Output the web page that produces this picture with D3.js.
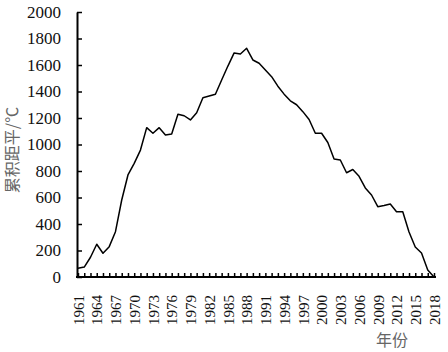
<!DOCTYPE html>
<html>
<head>
<meta charset="utf-8">
<script src="https://cdn.jsdelivr.net/npm/d3@7"></script>
<style>
  body { margin: 0; background: #fff; }
  svg { display: block; }
  .line { fill: none; stroke: #000; stroke-width: 1.5; stroke-linejoin: round; }
  .num text { font-family: "Liberation Serif", "Times New Roman", serif; }
</style>
</head>
<body>
<svg id="chart" width="448" height="352"></svg>
<script>
const years = d3.range(1961, 2019);
const values = [
  66, 75, 149, 247, 179, 229, 342, 581, 770, 858,
  958, 1127, 1085, 1127, 1072, 1079, 1228, 1217, 1185, 1240,
  1353, 1366, 1379, 1487, 1592, 1691, 1683, 1726, 1638, 1613,
  1562, 1512, 1440, 1380, 1330, 1300, 1248, 1189, 1085, 1085,
  1015, 891, 883, 787, 811, 760, 672, 619, 531, 540,
  551, 493, 493, 340, 226, 181, 53, 0
];
const yTicks = d3.range(0, 2001, 200);
const xLabelYears = years.filter(d => (d - 1961) % 3 === 0);

const cjk = "'Noto Sans CJK SC', sans-serif";

const svg = d3.select("#chart");

const x = d3.scalePoint().domain(years).range([78, 434]);
const y = d3.scaleLinear().domain([0, 2000]).range([277, 12]);

const axisX = 77;

// y axis, ticks pointing inward
const gy = svg.append("g")
  .attr("class", "num")
  .attr("transform", `translate(${axisX},0)`)
  .call(d3.axisLeft(y).tickValues(yTicks).tickFormat(d3.format("d"))
    .tickSizeInner(-5).tickSizeOuter(0).tickPadding(16));
gy.attr("font-family", null).attr("font-size", 17);
gy.select(".domain").attr("stroke-width", 2);
gy.selectAll(".tick line").attr("stroke-width", 1.5);
gy.selectAll(".tick text").attr("fill", "#111");

// x axis, ticks every year, labels every 3 years
const gx = svg.append("g")
  .attr("class", "num")
  .attr("transform", `translate(0,${y(0)})`)
  .call(d3.axisBottom(x).tickSizeInner(-4).tickSizeOuter(0)
    .tickFormat(d => xLabelYears.includes(d) ? d : ""));
gx.attr("font-family", null).attr("font-size", 15);
gx.select(".domain").remove();
gx.append("line")
  .attr("x1", axisX - 1).attr("x2", x.range()[1] + 2)
  .attr("stroke", "#000").attr("stroke-width", 2);
gx.selectAll(".tick line").attr("stroke-width", 1.5);
gx.selectAll(".tick text")
  .attr("fill", "#111")
  .attr("transform", "rotate(-90)")
  .attr("text-anchor", "end")
  .attr("x", -18)
  .attr("y", 0)
  .attr("dy", "0.35em");

const line = d3.line()
  .x((d, i) => x(years[i]))
  .y(d => y(d));

svg.append("path")
  .datum(values)
  .attr("class", "line")
  .attr("d", line);

svg.append("text")
  .attr("font-family", cjk)
  .attr("fill", "#666")
  .attr("font-size", 16)
  .attr("text-anchor", "middle")
  .attr("dy", "0.35em")
  .attr("transform", "translate(12,150) rotate(-90)")
  .text("累积距平/℃");

svg.append("text")
  .attr("font-family", cjk)
  .attr("fill", "#666")
  .attr("font-size", 16)
  .attr("text-anchor", "middle")
  .attr("x", 392)
  .attr("y", 346)
  .text("年份");
</script>
</body>
</html>
